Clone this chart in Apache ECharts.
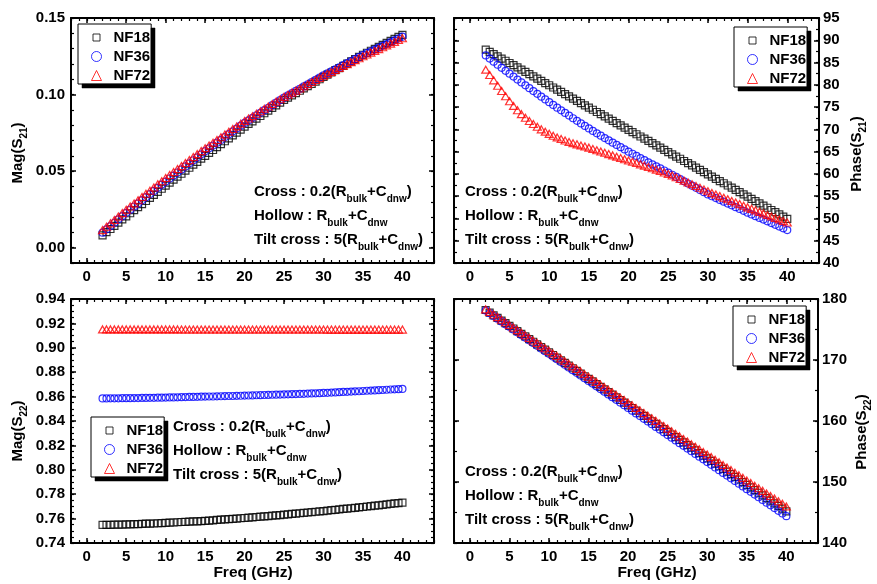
<!DOCTYPE html>
<html>
<head>
<meta charset="utf-8">
<script src="https://cdn.jsdelivr.net/npm/echarts@6/dist/echarts.min.js"></script>
<style>
  html, body { margin: 0; padding: 0; background: #fff; }
  #chart { width: 877px; height: 584px; }
</style>
</head>
<body>
<div id="chart"></div>
<script>
// Frequency sweep (GHz)
const freq = [2,2.5,3,3.5,4,4.5,5,5.5,6,6.5,7,7.5,8,8.5,9,9.5,10,10.5,11,11.5,12,12.5,13,13.5,14,14.5,15,15.5,16,16.5,17,17.5,18,18.5,19,19.5,20,20.5,21,21.5,22,22.5,23,23.5,24,24.5,25,25.5,26,26.5,27,27.5,28,28.5,29,29.5,30,30.5,31,31.5,32,32.5,33,33.5,34,34.5,35,35.5,36,36.5,37,37.5,38,38.5,39,39.5,40];

// |S21|
const magS21_NF18 = [0.0080,0.0101,0.0122,0.0143,0.0164,0.0185,0.0205,0.0225,0.0245,0.0265,0.0285,0.0305,0.0325,0.0345,0.0365,0.0385,0.0405,0.0425,0.0444,0.0464,0.0483,0.0503,0.0522,0.0542,0.0561,0.0581,0.0600,0.0619,0.0638,0.0657,0.0676,0.0695,0.0714,0.0733,0.0752,0.0771,0.0790,0.0808,0.0825,0.0843,0.0860,0.0878,0.0895,0.0913,0.0930,0.0948,0.0965,0.0980,0.0995,0.1010,0.1025,0.1040,0.1055,0.1070,0.1085,0.1100,0.1115,0.1130,0.1144,0.1159,0.1173,0.1188,0.1202,0.1217,0.1231,0.1246,0.1260,0.1273,0.1286,0.1299,0.1312,0.1325,0.1338,0.1351,0.1364,0.1377,0.1390];
const magS21_NF36 = [0.0098,0.0120,0.0141,0.0163,0.0185,0.0206,0.0228,0.0248,0.0269,0.0289,0.0310,0.0330,0.0350,0.0371,0.0391,0.0412,0.0432,0.0452,0.0471,0.0491,0.0511,0.0531,0.0551,0.0571,0.0590,0.0610,0.0630,0.0649,0.0667,0.0686,0.0704,0.0723,0.0741,0.0760,0.0778,0.0797,0.0815,0.0832,0.0848,0.0865,0.0881,0.0898,0.0914,0.0931,0.0947,0.0964,0.0980,0.0995,0.1009,0.1024,0.1038,0.1053,0.1067,0.1082,0.1096,0.1111,0.1125,0.1138,0.1151,0.1165,0.1178,0.1192,0.1205,0.1218,0.1231,0.1245,0.1258,0.1270,0.1282,0.1294,0.1306,0.1318,0.1330,0.1342,0.1354,0.1366,0.1378];
const magS21_NF72 = [0.0115,0.0137,0.0159,0.0181,0.0204,0.0226,0.0248,0.0269,0.0289,0.0310,0.0331,0.0352,0.0372,0.0393,0.0414,0.0434,0.0455,0.0475,0.0494,0.0514,0.0533,0.0553,0.0572,0.0592,0.0611,0.0631,0.0650,0.0668,0.0686,0.0703,0.0721,0.0739,0.0757,0.0775,0.0792,0.0810,0.0828,0.0844,0.0859,0.0875,0.0891,0.0907,0.0922,0.0938,0.0954,0.0969,0.0985,0.0999,0.1013,0.1026,0.1040,0.1054,0.1068,0.1082,0.1095,0.1109,0.1123,0.1136,0.1148,0.1161,0.1174,0.1187,0.1199,0.1212,0.1225,0.1237,0.1250,0.1262,0.1274,0.1285,0.1297,0.1309,0.1321,0.1333,0.1344,0.1356,0.1368];

// Phase(S21), degrees
const phaseS21_NF18 = [87.9,87.4,86.9,86.4,85.9,85.4,84.9,84.4,83.9,83.4,82.9,82.4,81.9,81.4,80.9,80.4,79.9,79.4,78.9,78.4,77.9,77.4,76.9,76.4,75.9,75.4,74.9,74.4,73.9,73.4,72.9,72.4,71.9,71.4,70.9,70.4,69.9,69.4,68.9,68.4,67.9,67.4,66.9,66.4,65.9,65.4,64.9,64.4,63.9,63.4,62.9,62.4,61.9,61.4,60.9,60.4,59.9,59.4,58.9,58.4,57.9,57.4,56.9,56.4,55.9,55.4,54.9,54.4,53.9,53.4,52.9,52.4,51.9,51.4,50.9,50.4,49.9];
const phaseS21_NF36 = [86.60,85.89,85.19,84.50,83.82,83.15,82.50,81.84,81.18,80.53,79.88,79.24,78.60,77.97,77.34,76.72,76.10,75.49,74.88,74.28,73.68,73.09,72.50,71.92,71.34,70.77,70.20,69.65,69.11,68.58,68.05,67.53,67.01,66.50,66.00,65.50,65.00,64.52,64.04,63.56,63.08,62.60,62.14,61.68,61.22,60.76,60.30,59.81,59.32,58.83,58.34,57.85,57.36,56.87,56.38,55.89,55.40,54.99,54.58,54.17,53.76,53.35,52.94,52.53,52.12,51.71,51.30,50.91,50.52,50.13,49.74,49.35,48.96,48.57,48.18,47.79,47.40];
const phaseS21_NF72 = [83.40,82.20,81.00,79.80,78.60,77.43,76.30,75.27,74.30,73.42,72.60,71.88,71.20,70.58,70.00,69.48,69.00,68.58,68.20,67.84,67.50,67.19,66.90,66.64,66.40,66.15,65.90,65.61,65.32,65.03,64.74,64.45,64.16,63.87,63.58,63.29,63.00,62.72,62.44,62.15,61.86,61.56,61.26,60.95,60.64,60.32,60.00,59.63,59.25,58.87,58.48,58.09,57.70,57.30,56.90,56.50,56.10,55.74,55.38,55.02,54.66,54.30,53.94,53.58,53.22,52.86,52.50,52.16,51.82,51.48,51.14,50.80,50.46,50.12,49.78,49.44,49.10];

// |S22|
const magS22_NF18 = [0.7548,0.7549,0.7549,0.7550,0.7551,0.7551,0.7552,0.7553,0.7554,0.7555,0.7556,0.7558,0.7559,0.7560,0.7562,0.7563,0.7565,0.7567,0.7568,0.7570,0.7572,0.7573,0.7575,0.7577,0.7578,0.7580,0.7582,0.7584,0.7586,0.7589,0.7591,0.7593,0.7596,0.7598,0.7600,0.7603,0.7605,0.7608,0.7610,0.7613,0.7616,0.7618,0.7621,0.7624,0.7627,0.7629,0.7632,0.7635,0.7638,0.7641,0.7644,0.7647,0.7650,0.7653,0.7656,0.7659,0.7662,0.7665,0.7669,0.7672,0.7675,0.7679,0.7682,0.7685,0.7688,0.7692,0.7695,0.7699,0.7702,0.7706,0.7709,0.7713,0.7717,0.7720,0.7724,0.7727,0.7731];
const magS22_NF36 = [0.8585,0.8585,0.8586,0.8586,0.8586,0.8587,0.8587,0.8587,0.8588,0.8588,0.8589,0.8589,0.8590,0.8590,0.8591,0.8591,0.8592,0.8593,0.8593,0.8594,0.8595,0.8596,0.8597,0.8597,0.8598,0.8599,0.8600,0.8601,0.8601,0.8602,0.8603,0.8604,0.8605,0.8605,0.8606,0.8607,0.8608,0.8609,0.8610,0.8611,0.8612,0.8613,0.8614,0.8615,0.8616,0.8617,0.8618,0.8619,0.8620,0.8621,0.8622,0.8623,0.8625,0.8626,0.8627,0.8628,0.8630,0.8631,0.8633,0.8634,0.8636,0.8638,0.8639,0.8641,0.8643,0.8644,0.8646,0.8648,0.8649,0.8651,0.8653,0.8654,0.8656,0.8658,0.8660,0.8661,0.8663];
const magS22_NF72 = [0.9151,0.9151,0.9151,0.9151,0.9151,0.9151,0.9151,0.9151,0.9151,0.9151,
  0.9151,0.9151,0.9151,0.9151,0.9151,0.9151,0.9151,0.9151,0.9151,0.9151,
  0.9150,0.9150,0.9150,0.9150,0.9150,0.9150,0.9150,0.9150,0.9150,0.9150,
  0.9150,0.9150,0.9150,0.9150,0.9150,0.9150,0.9150,0.9150,0.9150,0.9150,
  0.9150,0.9150,0.9150,0.9150,0.9150,0.9150,0.9150,0.9150,0.9150,0.9150,
  0.9150,0.9150,0.9150,0.9150,0.9150,0.9150,0.9150,
  0.9149,0.9149,0.9149,0.9149,0.9149,0.9149,0.9149,0.9149,0.9149,0.9149,
  0.9149,0.9149,0.9149,0.9149,0.9149,0.9149,0.9149,0.9149,0.9149,0.9149];

// Phase(S22), degrees
const phaseS22_NF18 = [178.20,177.77,177.33,176.90,176.46,176.03,175.59,175.16,174.73,174.29,173.86,173.42,172.99,172.56,172.12,171.69,171.25,170.82,170.38,169.95,169.52,169.08,168.65,168.21,167.78,167.34,166.91,166.48,166.04,165.61,165.17,164.74,164.31,163.87,163.44,163.00,162.57,162.13,161.70,161.27,160.83,160.40,159.96,159.53,159.10,158.66,158.23,157.79,157.36,156.92,156.49,156.06,155.62,155.19,154.75,154.32,153.88,153.45,153.02,152.58,152.15,151.71,151.28,150.85,150.41,149.98,149.54,149.11,148.67,148.24,147.81,147.37,146.94,146.50,146.07,145.63,145.20];
const phaseS22_NF36 = [178.10,177.66,177.21,176.77,176.33,175.88,175.44,175.00,174.55,174.11,173.67,173.22,172.78,172.34,171.89,171.45,171.01,170.56,170.12,169.68,169.23,168.79,168.34,167.90,167.46,167.01,166.57,166.13,165.68,165.24,164.80,164.35,163.91,163.47,163.02,162.58,162.14,161.69,161.25,160.81,160.36,159.92,159.47,159.03,158.59,158.14,157.70,157.26,156.81,156.37,155.93,155.48,155.04,154.60,154.15,153.71,153.27,152.82,152.38,151.94,151.49,151.05,150.60,150.16,149.72,149.27,148.83,148.39,147.94,147.50,147.06,146.61,146.17,145.73,145.28,144.84,144.40];
const phaseS22_NF72 = [178.30,177.88,177.45,177.03,176.60,176.18,175.75,175.33,174.90,174.48,174.05,173.63,173.20,172.78,172.35,171.93,171.50,171.08,170.65,170.23,169.80,169.38,168.95,168.53,168.10,167.68,167.25,166.83,166.40,165.98,165.55,165.13,164.70,164.28,163.85,163.43,163.00,162.58,162.15,161.73,161.30,160.88,160.45,160.03,159.60,159.18,158.75,158.33,157.90,157.48,157.05,156.63,156.20,155.78,155.35,154.93,154.50,154.08,153.65,153.23,152.80,152.38,151.95,151.53,151.10,150.68,150.25,149.83,149.40,148.98,148.55,148.13,147.70,147.28,146.85,146.43,146.00];

// Series names and tick labels
const seriesNames = ['NF18', 'NF36', 'NF72'];
const xTicks = [0, 5, 10, 15, 20, 25, 30, 35, 40];
const yTicksMagS21 = [0, 0.05, 0.10, 0.15];
const yTicksPhaseS21 = [40, 45, 50, 55, 60, 65, 70, 75, 80, 85, 90, 95];
const yTicksMagS22 = [0.74, 0.76, 0.78, 0.80, 0.82, 0.84, 0.86, 0.88, 0.90, 0.92, 0.94];
const yTicksPhaseS22 = [140, 150, 160, 170, 180];

// ---------------- styling / layout ----------------
const FONT = 'Liberation Sans, Arial, Helvetica, sans-serif';
const COLORS = ['#000000', '#0000ff', '#ff0000'];
const SYMBOLS = ['rect', 'circle', 'triangle'];
const LEGEND_ICONS = ['path://M0,0M10,10M1.5,1.5L8.5,1.5L8.5,8.5L1.5,8.5Z', 'circle', 'triangle'];
const LEGEND_BOX = { width: 73, height: 60, shadow: 4 };

const panels = [
  { grid: { left: 71, top: 18, width: 363, height: 245 },
    y: { min: -0.01, max: 0.15, ticks: yTicksMagS21, minor: 0.01, digits: 2, side: 'left' },
    data: [magS21_NF18, magS21_NF36, magS21_NF72],
    legend: { left: 78, top: 24 }, note: { x: 254, y: 180 } },
  { grid: { left: 454, top: 18, width: 365, height: 245 },
    y: { min: 40, max: 95, ticks: yTicksPhaseS21, minor: 2.5, digits: 0, side: 'right' },
    data: [phaseS21_NF18, phaseS21_NF36, phaseS21_NF72],
    legend: { left: 734, top: 27 }, note: { x: 465, y: 180 } },
  { grid: { left: 71, top: 299, width: 363, height: 244 },
    y: { min: 0.74, max: 0.94, ticks: yTicksMagS22, minor: 0.005, digits: 2, side: 'left' },
    data: [magS22_NF18, magS22_NF36, magS22_NF72],
    legend: { left: 91, top: 417 }, note: { x: 173, y: 415 } },
  { grid: { left: 454, top: 299, width: 364, height: 244 },
    y: { min: 140, max: 180, ticks: yTicksPhaseS22, minor: 5, digits: 0, side: 'right' },
    data: [phaseS22_NF18, phaseS22_NF36, phaseS22_NF72],
    legend: { left: 733, top: 306 }, note: { x: 465, y: 460 } }
];

const labelFont = { fontFamily: FONT, fontSize: 15, fontWeight: 'bold', color: '#000' };
const frameLine = { color: '#000', width: 2 };

function xAxesFor(gi) {
  const base = { gridIndex: gi, type: 'value', min: -2, max: 44, splitLine: { show: false } };
  return [
    Object.assign({}, base, { position: 'bottom',
      axisLine: { show: true, onZero: false, lineStyle: frameLine },
      axisTick: { show: true, inside: true, length: 5, customValues: xTicks, lineStyle: { color: '#000', width: 1.5 } },
      axisLabel: Object.assign({ show: true, customValues: xTicks, margin: 6 }, labelFont) }),
    Object.assign({}, base, { position: 'bottom', interval: 1,
      axisLine: { show: false, onZero: false },
      axisTick: { show: true, inside: true, length: 3, lineStyle: { color: '#000', width: 1.2 } },
      axisLabel: { show: false } }),
    Object.assign({}, base, { position: 'top',
      axisLine: { show: true, onZero: false, lineStyle: frameLine },
      axisTick: { show: true, inside: true, length: 5, customValues: xTicks, lineStyle: { color: '#000', width: 1.5 } },
      axisLabel: { show: false } }),
    Object.assign({}, base, { position: 'top', interval: 1,
      axisLine: { show: false, onZero: false },
      axisTick: { show: true, inside: true, length: 3, lineStyle: { color: '#000', width: 1.2 } },
      axisLabel: { show: false } })
  ];
}

function yAxesFor(gi, y) {
  const base = { gridIndex: gi, type: 'value', min: y.min, max: y.max, splitLine: { show: false } };
  const labelSide = y.side;
  const otherSide = labelSide === 'left' ? 'right' : 'left';
  return [
    Object.assign({}, base, { position: labelSide,
      axisLine: { show: true, onZero: false, lineStyle: frameLine },
      axisTick: { show: true, inside: true, length: 5, customValues: y.ticks, lineStyle: { color: '#000', width: 1.5 } },
      axisLabel: Object.assign({ show: true, customValues: y.ticks, margin: labelSide === 'left' ? 6 : 4,
        formatter: v => Number(v).toFixed(y.digits) }, labelFont) }),
    Object.assign({}, base, { position: labelSide, interval: y.minor,
      axisLine: { show: false, onZero: false },
      axisTick: { show: true, inside: true, length: 3, lineStyle: { color: '#000', width: 1.2 } },
      axisLabel: { show: false } }),
    Object.assign({}, base, { position: otherSide,
      axisLine: { show: true, onZero: false, lineStyle: frameLine },
      axisTick: { show: true, inside: true, length: 5, customValues: y.ticks, lineStyle: { color: '#000', width: 1.5 } },
      axisLabel: { show: false } }),
    Object.assign({}, base, { position: otherSide, interval: y.minor,
      axisLine: { show: false, onZero: false },
      axisTick: { show: true, inside: true, length: 3, lineStyle: { color: '#000', width: 1.2 } },
      axisLabel: { show: false } })
  ];
}

const grid = [], xAxis = [], yAxis = [], series = [], legend = [], graphic = [];

panels.forEach((p, gi) => {
  grid.push(Object.assign({ outerBoundsMode: 'none', containLabel: false }, p.grid));
  xAxis.push(...xAxesFor(gi));
  yAxis.push(...yAxesFor(gi, p.y));
  p.data.forEach((values, si) => {
    series.push({
      type: 'scatter',
      name: seriesNames[si],
      xAxisIndex: gi * 4,
      yAxisIndex: gi * 4,
      data: freq.map((f, i) => [f, values[i]]),
      symbol: SYMBOLS[si],
      symbolSize: si === 2 ? [8, 7] : 7,
      itemStyle: { color: 'rgba(0,0,0,0)', borderColor: COLORS[si], borderWidth: 1.2 },
      emphasis: { disabled: true },
      silent: true,
      z: 2 + si
    });
  });
  legend.push({
    orient: 'vertical',
    left: p.legend.left,
    top: p.legend.top,
    data: seriesNames.map((n, si) => ({
      name: n,
      icon: LEGEND_ICONS[si],
      itemStyle: { color: 'rgba(0,0,0,0)', borderColor: COLORS[si], borderWidth: 1 }
    })),
    itemWidth: 10,
    itemHeight: 10,
    itemGap: 4,
    padding: [6, 1, 1, 13],
    backgroundColor: '#fff',
    borderColor: '#000',
    borderWidth: 1,
    selectedMode: false,
    textStyle: { fontFamily: FONT, fontSize: 15, fontWeight: 'bold', color: '#000', padding: [0, 0, 0, 7] },
    z: 10
  });
  // solid drop shadow along the right and bottom edges of the legend frame
  const L = p.legend.left, T = p.legend.top, W = LEGEND_BOX.width, H = LEGEND_BOX.height, S = LEGEND_BOX.shadow;
  graphic.push({
    type: 'polygon', z: 100, zlevel: 1, silent: true,
    shape: { points: [[L + W, T + S], [L + W + S, T + S], [L + W + S, T + H + S], [L + S, T + H + S], [L + S, T + H], [L + W, T + H]] },
    style: { fill: '#000', stroke: '#000', lineWidth: 0.5 }
  });
  // the same strips drawn as text boxes with a black background
  graphic.push({
    type: 'text', x: L + W, y: T + S, z: 100, zlevel: 1, silent: true,
    style: { text: ' ', fontSize: 1, backgroundColor: '#000', width: S, height: H, align: 'left', verticalAlign: 'top' }
  });
  graphic.push({
    type: 'text', x: L + S, y: T + H, z: 100, zlevel: 1, silent: true,
    style: { text: ' ', fontSize: 1, backgroundColor: '#000', width: W, height: S, align: 'left', verticalAlign: 'top' }
  });
  // model annotations
  graphic.push({
    type: 'text', x: p.note.x, y: p.note.y, z: 20, silent: true,
    style: {
      text: 'Cross : 0.2(R{s|bulk}+C{s|dnw})\nHollow : R{s|bulk}+C{s|dnw}\nTilt cross : 5(R{s|bulk}+C{s|dnw})',
      fontFamily: FONT, fontSize: 15, fontWeight: 'bold', fill: '#000',
      lineHeight: 24, align: 'left', verticalAlign: 'top',
      rich: { s: { fontFamily: FONT, fontSize: 10, fontWeight: 'bold', fill: '#000', verticalAlign: 'bottom' } }
    }
  });
});

// axis titles
function axisTitle(text, x, y, rotated, size) {
  return {
    type: 'text', x: x, y: y, rotation: rotated ? Math.PI / 2 : 0, z: 20, silent: true,
    style: {
      text: text, fontFamily: FONT, fontSize: size || 15, fontWeight: 'bold', fill: '#000',
      lineHeight: 22, align: 'center', verticalAlign: 'middle',
      rich: { s: { fontFamily: FONT, fontSize: 10, fontWeight: 'bold', fill: '#000', verticalAlign: 'bottom' } }
    }
  };
}
graphic.push(axisTitle('Mag(S{s|21})', 18, 153, true));
graphic.push(axisTitle('Phase(S{s|21})', 857, 154, true));
graphic.push(axisTitle('Mag(S{s|22})', 18, 431, true));
graphic.push(axisTitle('Phase(S{s|22})', 862, 432, true));
graphic.push(axisTitle('Freq (GHz)', 253, 573, false, 15.5));
graphic.push(axisTitle('Freq (GHz)', 657, 573, false, 15.5));

const chart = echarts.init(document.getElementById('chart'));
chart.setOption({
  animation: false,
  backgroundColor: '#fff',
  grid: grid,
  xAxis: xAxis,
  yAxis: yAxis,
  legend: legend,
  series: series,
  graphic: { elements: graphic }
});
</script>
</body>
</html>
